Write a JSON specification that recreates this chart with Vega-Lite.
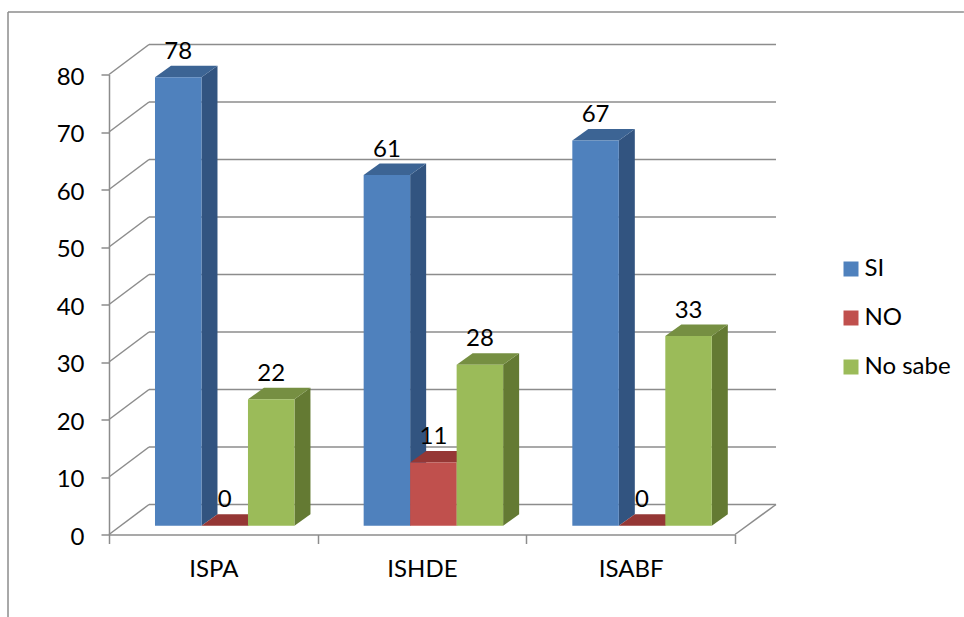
{
"$schema":"https://vega.github.io/schema/vega-lite/v6.json",
"width":626,"height":460,
"autosize":{"type":"none"},
"padding":{"left":109,"top":74.5,"right":229,"bottom":82.5},
"background":"white",
"config":{"view":{"stroke":null},"font":"Lato","text":{"font":"Lato"}},
"datasets":{
"grid":[{"v":0},{"v":10},{"v":20},{"v":30},{"v":40},{"v":50},{"v":60},{"v":70},{"v":80}],
"one":[{"k":1}]
},
"data":{"values":[
{"categoria":"ISPA","serie":"SI","valor":78},
{"categoria":"ISPA","serie":"NO","valor":0},
{"categoria":"ISPA","serie":"No sabe","valor":22},
{"categoria":"ISHDE","serie":"SI","valor":61},
{"categoria":"ISHDE","serie":"NO","valor":11},
{"categoria":"ISHDE","serie":"No sabe","valor":28},
{"categoria":"ISABF","serie":"SI","valor":67},
{"categoria":"ISABF","serie":"NO","valor":0},
{"categoria":"ISABF","serie":"No sabe","valor":33}
]},
"transform":[
{"calculate":"indexof(['ISPA','ISHDE','ISABF'],datum.categoria)","as":"ci"},
{"calculate":"indexof(['SI','NO','No sabe'],datum.serie)","as":"si"},
{"calculate":"datum.ci+0.2204+datum.si*0.2228","as":"x0"},
{"calculate":"datum.x0+0.2228","as":"x1"},
{"calculate":"datum.x0+0.1114","as":"xm"},
{"calculate":"datum.valor+1.513","as":"yt"},
{"calculate":"1.513","as":"yb"},
{"calculate":"datum.categoria+'-'+datum.serie","as":"key"}
],
"layer":[
{"data":{"name":"one"},"mark":{"type":"rule","color":"#8c8c8c","strokeWidth":1.5},
 "encoding":{"x":{"datum":-0.484,"type":"quantitative","scale":{"domain":[0,3]},"axis":null},"x2":{"datum":4.097},"y":{"datum":90.87,"type":"quantitative","scale":{"domain":[0,80]},"axis":null}}},
{"data":{"name":"one"},"mark":{"type":"rule","color":"#8c8c8c","strokeWidth":1.5},
 "encoding":{"x":{"datum":-0.484,"type":"quantitative","scale":{"domain":[0,3]},"axis":null},"y":{"datum":90.87,"type":"quantitative","scale":{"domain":[0,80]},"axis":null},"y2":{"datum":-14.35}}},
{"data":{"name":"grid"},"transform":[{"calculate":"datum.v+5.217","as":"vb"}],
 "mark":{"type":"rule","color":"#8c8c8c","strokeWidth":1.5},
 "encoding":{
  "x":{"datum":0,"type":"quantitative","scale":{"domain":[0,3]},
   "axis":{"title":null,"grid":false,"values":[0,1,2,3],"labelExpr":"['ISPA','ISHDE','ISABF',''][datum.value]","labelOffset":104.3,"labelOverlap":false,"labelBound":false,"labelFlush":false,"labelFontSize":24,"labelFont":"Lato","labelFontWeight":"normal","labelColor":"#000","labelPadding":14,"tickSize":9,"tickColor":"#8c8c8c","tickWidth":1.5,"domainColor":"#8c8c8c","domainWidth":1.5}},
  "x2":{"datum":0.1917},
  "y":{"field":"v","type":"quantitative","scale":{"domain":[0,80]},
   "axis":{"title":null,"grid":false,"values":[0,10,20,30,40,50,60,70,80],"labelFontSize":24,"labelFont":"Lato","labelColor":"#000","labelPadding":17,"labelOffset":2.5,"labelBound":false,"labelFlush":false,"tickSize":8,"tickColor":"#8c8c8c","tickWidth":1.5,"domainColor":"#8c8c8c","domainWidth":1.5}},
  "y2":{"field":"vb"}}},
{"data":{"name":"grid"},"transform":[{"calculate":"datum.v+5.217","as":"vb"}],
 "mark":{"type":"rule","color":"#8c8c8c","strokeWidth":1.5},
 "encoding":{"x":{"datum":0.1917,"type":"quantitative","scale":{"domain":[0,3]},"axis":null},"x2":{"datum":3.1965},"y":{"field":"vb","type":"quantitative","scale":{"domain":[0,80]},"axis":null}}},
{"data":{"name":"one"},"mark":{"type":"rule","color":"#8c8c8c","strokeWidth":1.5},
 "encoding":{"x":{"datum":3,"type":"quantitative","scale":{"domain":[0,3]},"axis":null},"x2":{"datum":3.1965},"y":{"datum":0,"type":"quantitative","scale":{"domain":[0,80]},"axis":null},"y2":{"datum":5.217}}},
{"transform":[{"calculate":"[0,1]","as":"t"},{"flatten":["t"]},
  {"calculate":"datum.x1+datum.t*0.0767","as":"px"},{"calculate":"datum.yt+datum.t*2","as":"py"},{"calculate":"datum.yb+datum.t*2","as":"py2"}],
 "mark":{"type":"area","opacity":1},
 "encoding":{"x":{"field":"px","type":"quantitative","scale":{"domain":[0,3]},"axis":null},"y":{"field":"py","type":"quantitative","stack":null,"scale":{"domain":[0,80]},"axis":null},"y2":{"field":"py2"},"detail":{"field":"key"},
  "color":{"field":"serie","type":"nominal","legend":null,"scale":{"domain":["SI","NO","No sabe"],"range":["#325480","#8a3836","#647a33"]}}}},
{"transform":[{"calculate":"[0,1]","as":"t"},{"flatten":["t"]},
  {"calculate":"datum.x0+datum.t*0.0767","as":"px"},{"calculate":"datum.x1+datum.t*0.0767","as":"px2"},{"calculate":"datum.yt+datum.t*2","as":"py"}],
 "mark":{"type":"area","orient":"horizontal","opacity":1},
 "encoding":{"y":{"field":"py","type":"quantitative","stack":null,"scale":{"domain":[0,80]},"axis":null},"x":{"field":"px","type":"quantitative","scale":{"domain":[0,3]},"axis":null},"x2":{"field":"px2"},"detail":{"field":"key"},
  "color":{"field":"serie","type":"nominal","legend":null,"scale":{"domain":["SI","NO","No sabe"],"range":["#3c6494","#953735","#768f42"]}}}},
{"mark":{"type":"bar","opacity":1},
 "encoding":{"x":{"field":"x0","type":"quantitative","scale":{"domain":[0,3]},"axis":null},"x2":{"field":"x1"},"y":{"field":"yt","type":"quantitative","stack":null,"scale":{"domain":[0,80]},"axis":null},"y2":{"field":"yb"},
  "color":{"field":"serie","type":"nominal","scale":{"domain":["SI","NO","No sabe"],"range":["#4f81bd","#c0504d","#9bbb59"]},
   "legend":{"title":null,"orient":"none","legendX":730,"legendY":182.5,"symbolType":"square","symbolSize":225,"symbolStrokeWidth":0,"labelFontSize":24,"labelFont":"Lato","labelColor":"#000","rowPadding":25,"labelOffset":1.5,"padding":0}}}},
{"mark":{"type":"text","font":"Lato","fontSize":24,"color":"#000","dy":-25.5,"baseline":"middle"},
 "encoding":{"x":{"field":"xm","type":"quantitative","scale":{"domain":[0,3]},"axis":null},"y":{"field":"yt","type":"quantitative","stack":null,"scale":{"domain":[0,80]},"axis":null},"text":{"field":"valor","type":"quantitative"}}}
],
"resolve":{"scale":{"color":"independent"},"axis":{"x":"independent","y":"independent"}}
}
